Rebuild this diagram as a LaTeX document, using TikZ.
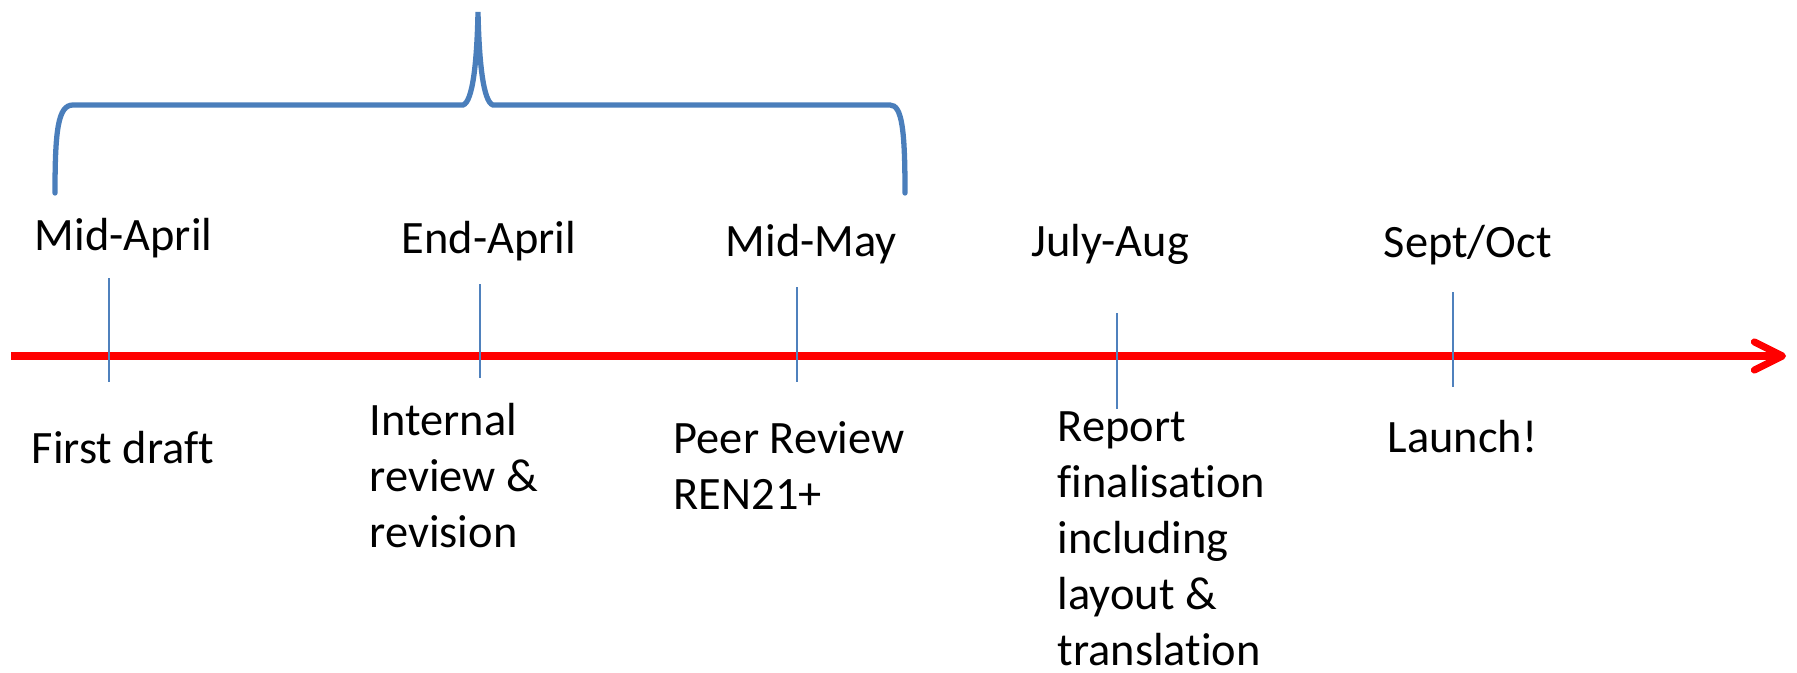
\documentclass[tikz,border=0pt]{standalone}
\usepackage{fontspec}
\setmainfont{Carlito}[Ligatures=NoCommon]
\usetikzlibrary{arrows.meta}

\definecolor{braceblue}{RGB}{74,126,187}
\definecolor{markblue}{RGB}{79,129,189}
\definecolor{axisred}{RGB}{255,0,0}

\tikzset{
  datelabel/.style={anchor=base west, inner sep=0pt, font=\fontsize{13.2pt}{15.9pt}\selectfont},
  tasklabel/.style={datelabel, align=left},
  marker/.style={markblue, line width=0.5pt},
  timeaxis/.style={axisred, line width=2pt, -{Straight Barb[round, length=8pt, width=8pt]}},
  bracket/.style={braceblue, line width=1.5pt, line cap=round}
}

\begin{document}
\begin{tikzpicture}[x=0.01cm, y=-0.01cm]
\useasboundingbox (0,0) rectangle (1797,673);

% Time axis
\coordinate (start) at (11,356);
\coordinate (tip) at (1786,356);
\draw[timeaxis] (start) -- (tip);

% Dates above the axis
\node[datelabel] (midapril) at (34,250) {Mid-April};
\node[datelabel] (endapril) at (401,254) {End-April};
\node[datelabel] (midmay) at (725,256) {Mid-May};
\node[datelabel] (julyaug) at (1031,256) {July-Aug};
\node[datelabel] (septoct) at (1383,258) {Sept/Oct};

% Milestones below the axis (multi-line ones sit on their last baseline)
\node[datelabel] (draft) at (31,463) {First draft};
\node[tasklabel] (internal) at (369,547) {Internal\\review \&\\revision};
\node[tasklabel] (peer) at (673,509) {Peer Review\\REN21+};
\node[tasklabel] (report) at (1057,665) {Report\\finalisation\\including\\layout \&\\translation};
\node[datelabel] (launch) at (1387,452) {Launch!};

% Tick marks across the axis
\coordinate (t1a) at (109,278);  \coordinate (t1b) at (109,382);
\coordinate (t2a) at (480,284);  \coordinate (t2b) at (480,378);
\coordinate (t3a) at (797,287);  \coordinate (t3b) at (797,382);
\coordinate (t4a) at (1117,313); \coordinate (t4b) at (1117,409);
\coordinate (t5a) at (1453,292); \coordinate (t5b) at (1453,387);
\foreach \i in {1,...,5}
  \draw[marker] (t\i a) -- (t\i b);

% Brace over the first three dates
\coordinate (bl) at (55,193);
\coordinate (br) at (905,193);
\coordinate (peak) at (478,12);
\draw[bracket] (bl) .. controls (55,130) and (58,105) .. (73,105)
  -- (463,105) .. controls (473,102) and (477,60) .. (peak)
  .. controls (479,60) and (483,102) .. (493,105)
  -- (890,105) .. controls (902,105) and (905,130) .. (br);

\end{tikzpicture}
\end{document}
